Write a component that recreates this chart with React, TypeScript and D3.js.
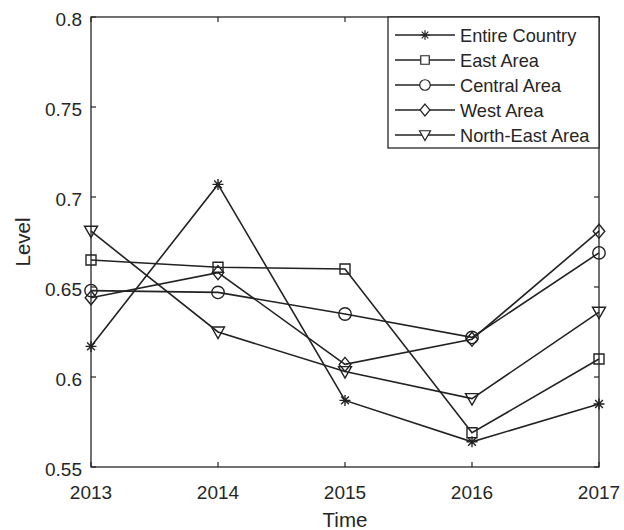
import React from "react";
import * as d3 from "d3";

const years = [2013, 2014, 2015, 2016, 2017];
const yTicks = [0.55, 0.6, 0.65, 0.7, 0.75, 0.8];

const entireCountry = [0.617, 0.707, 0.587, 0.564, 0.585];
const eastArea = [0.665, 0.661, 0.66, 0.569, 0.61];
const centralArea = [0.648, 0.647, 0.635, 0.622, 0.669];
const westArea = [0.644, 0.658, 0.607, 0.621, 0.681];
const northEastArea = [0.681, 0.625, 0.603, 0.588, 0.636];

const seriesNames = ["Entire Country", "East Area", "Central Area", "West Area", "North-East Area"];
const seriesMarkers = ["asterisk", "square", "circle", "diamond", "triangle"];
const seriesValues = [entireCountry, eastArea, centralArea, westArea, northEastArea];

const W = 624;
const H = 530;
const M = { left: 91, right: 599, top: 17, bottom: 467 };
const INK = "#262626";
const FONT = "'Liberation Sans', Arial, Helvetica, sans-serif";

function markerPath(kind: string): string {
  switch (kind) {
    case "square":
      return "M-5,-5H5V5H-5Z";
    case "circle":
      return "M6.2,0A6.2,6.2 0 1 1 -6.2,0A6.2,6.2 0 1 1 6.2,0Z";
    case "diamond":
      return "M0,-7L5.8,0L0,7L-5.8,0Z";
    case "triangle":
      return "M-6.5,-5H6.5L0,6.5Z";
    default: {
      const r = 5.5;
      const d = r * Math.SQRT1_2;
      return `M${-r},0H${r}M0,${-r}V${r}M${-d},${-d}L${d},${d}M${-d},${d}L${d},${-d}`;
    }
  }
}

export default function App() {
  const x = d3.scaleLinear().domain([2013, 2017]).range([M.left, M.right]);
  const y = d3.scaleLinear().domain([0.55, 0.8]).range([M.bottom, M.top]);
  const line = d3
    .line<number>()
    .x((_, i) => x(years[i]))
    .y((v) => y(v));

  const legend = { x0: 388, x1: 599, y0: 17, y1: 148, row0: 35, step: 25 };

  return (
    <svg
      width={W}
      height={H}
      style={{ position: "absolute", left: 0, top: 0, background: "#fff" }}
      fontFamily={FONT}
    >
      <rect width={W} height={H} fill="#fff" />

      {/* series lines and markers */}
      {seriesValues.map((vals, s) => (
        <g key={seriesNames[s]}>
          <path d={line(vals) || ""} fill="none" stroke="#222" strokeWidth={1.6} />
          {vals.map((v, i) => (
            <path
              key={i}
              d={markerPath(seriesMarkers[s])}
              transform={`translate(${x(years[i])},${y(v)})`}
              fill="none"
              stroke="#222"
              strokeWidth={1.4}
            />
          ))}
        </g>
      ))}

      {/* axes box */}
      <rect
        x={M.left}
        y={M.top}
        width={M.right - M.left}
        height={M.bottom - M.top}
        fill="none"
        stroke={INK}
        strokeWidth={1.3}
      />

      {/* y ticks */}
      {yTicks.map((t) => (
        <g key={t}>
          <line x1={M.left} x2={M.left + 5} y1={y(t)} y2={y(t)} stroke={INK} strokeWidth={1.2} />
          <line x1={M.right} x2={M.right - 5} y1={y(t)} y2={y(t)} stroke={INK} strokeWidth={1.2} />
          <text
            x={M.left - 9}
            y={y(t) + 9}
            textAnchor="end"
            fontSize={19}
            fill={INK}
          >
            {d3.format("~g")(t)}
          </text>
        </g>
      ))}

      {/* x ticks */}
      {years.map((yr) => (
        <g key={yr}>
          <line x1={x(yr)} x2={x(yr)} y1={M.bottom} y2={M.bottom - 5} stroke={INK} strokeWidth={1.2} />
          <line x1={x(yr)} x2={x(yr)} y1={M.top} y2={M.top + 5} stroke={INK} strokeWidth={1.2} />
          <text x={x(yr)} y={499} textAnchor="middle" fontSize={19} fill={INK}>
            {yr}
          </text>
        </g>
      ))}

      {/* axis titles */}
      <text x={(M.left + M.right) / 2} y={527} textAnchor="middle" fontSize={20.5} fill={INK}>
        Time
      </text>
      <text
        transform={`translate(30,${(M.top + M.bottom) / 2}) rotate(-90)`}
        textAnchor="middle"
        fontSize={20.5}
        fill={INK}
      >
        Level
      </text>

      {/* legend */}
      <rect
        x={legend.x0}
        y={legend.y0}
        width={legend.x1 - legend.x0}
        height={legend.y1 - legend.y0}
        fill="#fff"
        stroke={INK}
        strokeWidth={1.3}
      />
      {seriesNames.map((name, s) => {
        const ry = legend.row0 + s * legend.step;
        return (
          <g key={name}>
            <line x1={395} x2={455} y1={ry} y2={ry} stroke="#222" strokeWidth={1.6} />
            <path
              d={markerPath(seriesMarkers[s])}
              transform={`translate(425,${ry}) scale(0.85)`}
              fill="#fff"
              stroke="#222"
              strokeWidth={1.4}
            />
            <text x={460} y={ry + 6.5} fontSize={18.2} fill={INK}>
              {name}
            </text>
          </g>
        );
      })}
    </svg>
  );
}
